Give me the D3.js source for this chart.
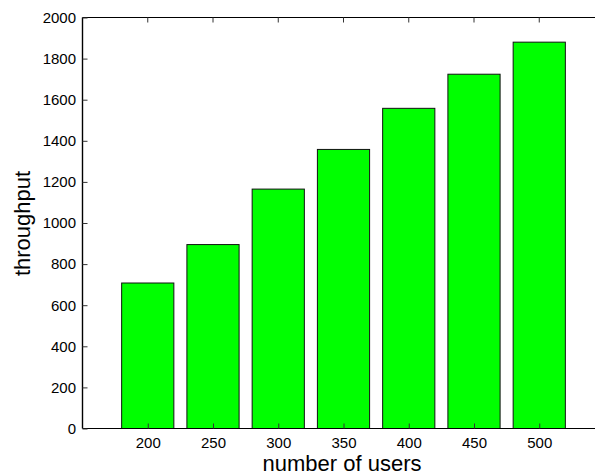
<!DOCTYPE html>
<html>
<head>
<meta charset="utf-8">
<script src="https://cdn.jsdelivr.net/npm/d3@7"></script>
<style>
  html, body { margin: 0; padding: 0; background: #fff; overflow: hidden; }
  svg { display: block; }
</style>
</head>
<body>
<svg id="chart" width="595" height="475" font-family="'Liberation Sans', Arial, Helvetica, sans-serif"></svg>
<script>
// Throughput measured for each user count
const users = ["200", "250", "300", "350", "400", "450", "500"];
const throughput = [708, 895, 1165, 1358, 1558, 1724, 1880];
const yTicks = [0, 200, 400, 600, 800, 1000, 1200, 1400, 1600, 1800, 2000];

const FONT = "'Liberation Sans', Arial, Helvetica, sans-serif";
const svg = d3.select("#chart");
const plotLeft = 82.5, plotTop = 17.5, plotBottom = 428.5, plotRight = 604.5;

// Bars sit at integer positions 1..7 on a [0, 8] axis
const x = d3.scaleLinear().domain([0, 8]).range([plotLeft, plotRight]);
const y = d3.scaleLinear().domain([0, 2000]).range([plotBottom, plotTop]);
const barW = 0.8;

const g = svg.append("g");

g.selectAll("rect.bar")
  .data(throughput)
  .join("rect")
  .attr("class", "bar")
  .attr("x", (d, i) => x(i + 1 - barW / 2))
  .attr("width", x(barW) - x(0))
  .attr("y", d => y(d))
  .attr("height", d => y(0) - y(d))
  .attr("fill", "#00ff00")
  .attr("stroke", "#111")
  .attr("stroke-width", 1);

// Box outline
g.append("line").attr("x1", plotLeft).attr("x2", plotRight).attr("y1", plotBottom).attr("y2", plotBottom)
  .attr("stroke", "#000").attr("stroke-width", 1.2);
g.append("line").attr("x1", plotLeft).attr("x2", plotRight).attr("y1", plotTop).attr("y2", plotTop)
  .attr("stroke", "#000").attr("stroke-width", 1.2);
g.append("line").attr("x1", plotLeft).attr("x2", plotLeft).attr("y1", plotTop).attr("y2", plotBottom)
  .attr("stroke", "#000").attr("stroke-width", 1.4);

// Y axis: inward ticks with labels on the left
const yAxis = d3.axisLeft(y).tickValues(yTicks).tickFormat(d3.format("d"))
  .tickSizeInner(-5).tickSizeOuter(0).tickPadding(6.5);
const ya = g.append("g").attr("transform", `translate(${plotLeft},0)`).call(yAxis)
  .attr("font-family", FONT).attr("font-size", 15);
ya.select(".domain").remove();
ya.selectAll("text").attr("fill", "#000");
ya.selectAll("line").attr("stroke", "#333");

// X axis: inward ticks at the bottom, category labels below
const xAxis = d3.axisBottom(x).tickValues(d3.range(1, users.length + 1))
  .tickFormat(i => users[i - 1]).tickSizeInner(-5).tickSizeOuter(0).tickPadding(9);
const xa = g.append("g").attr("transform", `translate(0,${plotBottom})`).call(xAxis)
  .attr("font-family", FONT).attr("font-size", 15);
xa.select(".domain").remove();
xa.selectAll("text").attr("fill", "#000");
xa.selectAll("line").attr("stroke", "#333");

// Matching ticks along the top edge
g.append("g").selectAll("line")
  .data(d3.range(1, users.length + 1))
  .join("line")
  .attr("x1", d => x(d)).attr("x2", d => x(d))
  .attr("y1", plotTop).attr("y2", plotTop + 5)
  .attr("stroke", "#333");

// Axis titles
svg.append("text")
  .attr("x", 342).attr("y", 471)
  .attr("text-anchor", "middle")
  .attr("font-size", 22)
  .attr("fill", "#000")
  .text("number of users");

svg.append("text")
  .attr("transform", "translate(30,223.5) rotate(-90)")
  .attr("text-anchor", "middle")
  .attr("font-size", 22)
  .attr("fill", "#000")
  .text("throughput");
</script>
</body>
</html>
